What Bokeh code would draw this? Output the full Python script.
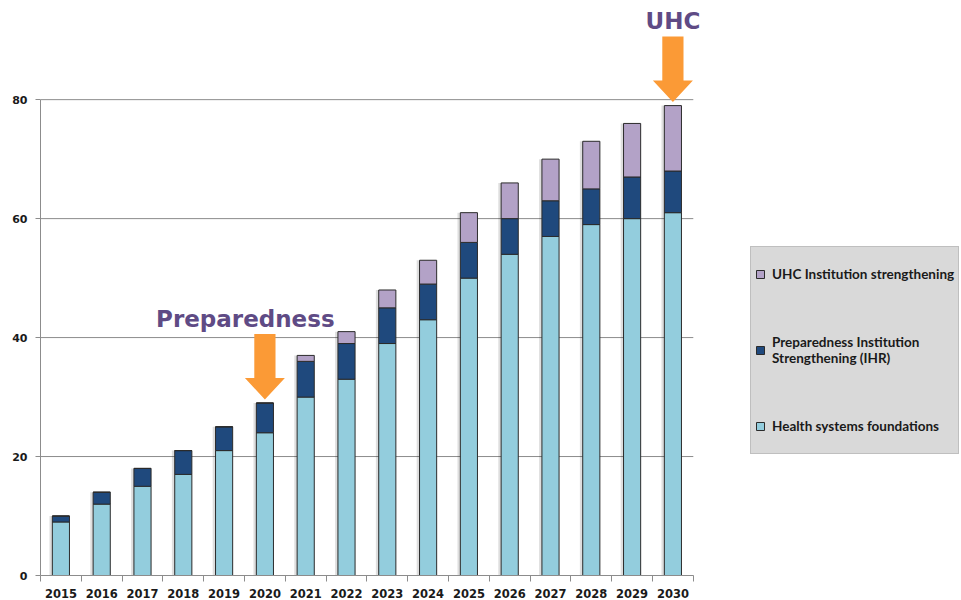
from bokeh.plotting import figure
from bokeh.models import (Range1d, FixedTicker, Legend, LegendItem, ColumnDataSource)
from bokeh.transform import dodge
from bokeh.core.properties import value
from bokeh.embed import file_html
from bokeh.resources import INLINE

# ---- data ----
years = ["2015", "2016", "2017", "2018", "2019", "2020", "2021", "2022",
         "2023", "2024", "2025", "2026", "2027", "2028", "2029", "2030"]
health_systems = [9, 12, 15, 17, 21, 24, 30, 33, 39, 43, 50, 54, 57, 59, 60, 61]
preparedness = [1, 2, 3, 4, 4, 5, 6, 6, 6, 6, 6, 6, 6, 6, 7, 7]
uhc = [0, 0, 0, 0, 0, 0, 1, 2, 3, 4, 5, 6, 7, 8, 9, 11]
y_ticks = [0, 20, 40, 60, 80]

series_keys = ["hsf", "prep", "uhc"]
series_names = ["Health systems foundations",
                "Preparedness Institution\nStrengthening (IHR)",
                "UHC Institution strengthening"]
series_colors = ["#93cddd", "#1f497d", "#b3a2c7"]

annotation_labels = ["Preparedness", "UHC"]
annotation_years = ["2020", "2030"]
annotation_text_shift = [-0.48, 0.0]   # horizontal nudge of each label, in year slots

# category slots: year i occupies [i, i+1] on the x scale
n = len(years)
centers = [i + 0.5 for i in range(n)]
edges = list(range(n + 1))
totals = [a + b + c for a, b, c in zip(health_systems, preparedness, uhc)]

source = ColumnDataSource(dict(x=centers, years=years, hsf=health_systems,
                               prep=preparedness, uhc=uhc, total=totals))

GRAY = "#8c8c8c"
TXT = "#1a1a1a"
ORANGE = "#fb9a36"
PURPLE = "#5f4b85"

W, H = 961, 600
LEFT = 40
SLOT_PX = 40.8          # pixel width of one year slot
X_END = (W - LEFT) / SLOT_PX   # frame extends to the right edge (legend lives there)
Y_END = 96.67

p = figure(x_range=Range1d(0, X_END), y_range=Range1d(0, Y_END),
           width=W, height=H, output_backend="svg", toolbar_location=None,
           min_border_left=LEFT, min_border_right=0,
           min_border_top=0, min_border_bottom=0)
p.outline_line_color = None
p.background_fill_color = "white"
p.border_fill_color = "white"
p.xgrid.grid_line_color = None
p.ygrid.grid_line_color = None

# horizontal gridlines limited to the bar area
p.segment(x0=[0] * len(y_ticks), x1=[n] * len(y_ticks), y0=y_ticks, y1=y_ticks,
          line_color=GRAY, line_width=1)

# y axis
yax = p.yaxis[0]
yax.ticker = FixedTicker(ticks=y_ticks, minor_ticks=[])
yax.bounds = (0, 80)
yax.axis_line_color = GRAY
yax.major_tick_line_color = GRAY
yax.major_tick_out = 5
yax.major_tick_in = 0
yax.minor_tick_line_color = None
yax.major_label_standoff = 8
yax.major_label_text_font = "DejaVu Sans"
yax.major_label_text_font_style = "bold"
yax.major_label_text_font_size = "11px"
yax.major_label_text_color = TXT

# x axis: labels at category centres, tick marks at category boundaries
xax = p.xaxis[0]
xax.bounds = (0, n)
xax.ticker = FixedTicker(ticks=centers, minor_ticks=edges)
xax.major_label_overrides = {c: y for c, y in zip(centers, years)}
xax.axis_line_color = GRAY
xax.major_tick_line_color = None
xax.major_tick_out = 0
xax.major_tick_in = 0
xax.minor_tick_line_color = GRAY
xax.minor_tick_out = 6
xax.minor_tick_in = 0
xax.major_label_standoff = 7
xax.major_label_text_font = "DejaVu Sans"
xax.major_label_text_font_style = "bold"
xax.major_label_text_font_size = "11.5px"
xax.major_label_text_color = TXT

# shadow
p.vbar(x=dodge("x", -0.07), top="total", width=0.42, source=source,
       fill_color="black", fill_alpha=0.13, line_color=None)

renderers = p.vbar_stack(series_keys, x="x", width=0.42, source=source,
                         fill_color=series_colors, line_color="#2b2b2b", line_width=1)

legend = Legend(items=[LegendItem(label=series_names[i], renderers=[renderers[i]])
                       for i in reversed(range(len(series_keys)))],
                location=(710, 121), orientation="vertical",
                background_fill_color="#d9d9d9", background_fill_alpha=1.0,
                border_line_color="#a6a6a6", border_line_width=1,
                label_text_font="Lato", label_text_font_style="bold",
                label_text_font_size="13.5px", label_text_color=TXT,
                glyph_width=10, glyph_height=10, label_standoff=7,
                padding=4, spacing=30, label_height=46, margin=0)
p.add_layout(legend)

# annotation arrows + labels
head_half, shaft_half, head_h, shaft_h, gap, text_gap = 0.49, 0.26, 3.6, 7.4, 0.6, 2.6
arrow_xs, arrow_ys, text_x, text_y = [], [], [], []
for yr, shift in zip(annotation_years, annotation_text_shift):
    i = years.index(yr)
    cx = centers[i]
    tip = totals[i] + gap
    base = tip + head_h
    top = base + shaft_h
    arrow_xs.append([cx - shaft_half, cx + shaft_half, cx + shaft_half, cx + head_half,
                     cx, cx - head_half, cx - shaft_half])
    arrow_ys.append([top, top, base, base, tip, base, base])
    text_x.append(cx + shift)
    text_y.append(top + text_gap)

p.patches(xs=arrow_xs, ys=arrow_ys, fill_color=ORANGE, line_color=None)
p.text(x=text_x, y=text_y, text=annotation_labels,
       text_align="center", text_baseline="alphabetic",
       text_font=value("DejaVu Sans"), text_font_style="bold", text_font_size="23px",
       text_color=PURPLE)

open("out.html", "w").write(file_html(p, INLINE))
